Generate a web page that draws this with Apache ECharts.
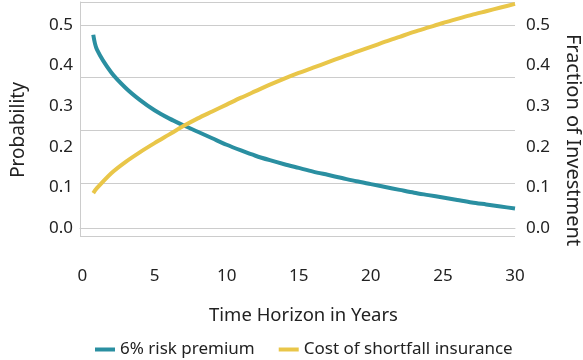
<!DOCTYPE html>
<html>
<head>
<meta charset="utf-8">
<script src="https://cdn.jsdelivr.net/npm/echarts@6/dist/echarts.min.js"></script>
<style>html,body{margin:0;padding:0;background:#fff}#c{width:583px;height:360px}</style>
</head>
<body>
<div id="c"></div>
<script>
var seriesNames = ['6% risk premium', 'Cost of shortfall insurance'];
var years = [0.75, 1, 2, 3, 4, 5, 6, 7, 8, 9, 10, 11, 12, 13, 14, 15, 16, 17, 18, 19, 20, 21, 22, 23, 24, 25, 26, 27, 28, 29, 30];
var riskPremium = [0.476, 0.44, 0.383, 0.345, 0.315, 0.29, 0.27, 0.253, 0.237, 0.221, 0.205, 0.191, 0.178, 0.167, 0.157, 0.148, 0.139, 0.131, 0.123, 0.115, 0.108, 0.101, 0.094, 0.087, 0.081, 0.075, 0.069, 0.063, 0.058, 0.053, 0.048];
var shortfallCost = [0.086, 0.098, 0.135, 0.163, 0.187, 0.209, 0.23, 0.251, 0.27, 0.287, 0.304, 0.321, 0.337, 0.353, 0.368, 0.382, 0.395, 0.408, 0.421, 0.434, 0.446, 0.459, 0.471, 0.483, 0.494, 0.505, 0.515, 0.525, 0.534, 0.543, 0.552];
var xTicks = [0, 5, 10, 15, 20, 25, 30];
var yTicks = [0, 0.1, 0.2, 0.3, 0.4, 0.5];
var colors = ['#2a8fa1', '#e9c649'];

var FONT = 'Noto Sans';
var txt = '#222';
function pairs(xs, ys) { return xs.map(function (x, i) { return [x, ys[i]]; }); }

var chart = echarts.init(document.getElementById('c'), null, {renderer: 'canvas'});
chart.setOption({
  animation: false,
  color: colors,
  textStyle: {fontFamily: FONT},
  grid: {left: 80, right: 68, top: 2, bottom: 124, containLabel: false, outerBoundsMode: 'none'},
  legend: {
    data: seriesNames,
    left: 95, top: 341, padding: 0,
    icon: 'rect', itemWidth: 20, itemHeight: 4, itemGap: 24,
    textStyle: {fontFamily: FONT, fontSize: 17, color: txt, padding: [0, 0, 0, 0]}
  },
  xAxis: {
    type: 'value', min: -0.17, max: 30,
    name: 'Time Horizon in Years', nameLocation: 'middle', nameGap: 70,
    nameTextStyle: {fontFamily: FONT, fontSize: 18.5, color: txt, padding: [0, 0, 0, 12]},
    axisLine: {show: true, lineStyle: {color: '#cccccc', width: 1}},
    axisTick: {show: false},
    splitLine: {show: false},
    axisLabel: {customValues: xTicks, margin: 32, fontFamily: FONT, fontSize: 17, color: txt}
  },
  yAxis: [
    {
      type: 'value', min: -0.0197, max: 0.5567, position: 'left',
      name: 'Probability', nameLocation: 'middle', nameGap: 52, nameRotate: 90,
      nameTextStyle: {fontFamily: FONT, fontSize: 19, color: txt, padding: [0, 22, 0, 0]},
      axisLine: {show: true, onZero: false, lineStyle: {color: '#cccccc', width: 1}},
      axisTick: {show: false},
      splitLine: {show: false},
      axisLabel: {customValues: yTicks, margin: 7, fontFamily: FONT, fontSize: 17, color: txt,
        formatter: function (v) { return v.toFixed(1); }}
    },
    {
      type: 'value', min: -0.0197, max: 0.5567, position: 'right',
      name: 'Fraction of Investment', nameLocation: 'middle', nameGap: 48, nameRotate: -90,
      nameTextStyle: {fontFamily: FONT, fontSize: 20, color: txt, padding: [0, 0, 0, 42]},
      axisLine: {show: false},
      axisTick: {show: false},
      splitLine: {show: false},
      axisLabel: {customValues: yTicks, margin: 11, fontFamily: FONT, fontSize: 17, color: txt,
        formatter: function (v) { return v.toFixed(1); }}
    },
    {
      type: 'value', min: 0, max: 4.436, interval: 1, position: 'left',
      axisLine: {show: false}, axisTick: {show: false}, axisLabel: {show: false},
      splitLine: {show: true, lineStyle: {color: '#cccccc', width: 1}}
    }
  ],
  series: [
    {name: seriesNames[0], type: 'line', yAxisIndex: 0, smooth: 0.3, showSymbol: false,
      lineStyle: {width: 4, color: colors[0]}, data: pairs(years, riskPremium)},
    {name: seriesNames[1], type: 'line', yAxisIndex: 0, smooth: 0.3, showSymbol: false,
      lineStyle: {width: 4, color: colors[1]}, data: pairs(years, shortfallCost)}
  ]
});
</script>
</body>
</html>
